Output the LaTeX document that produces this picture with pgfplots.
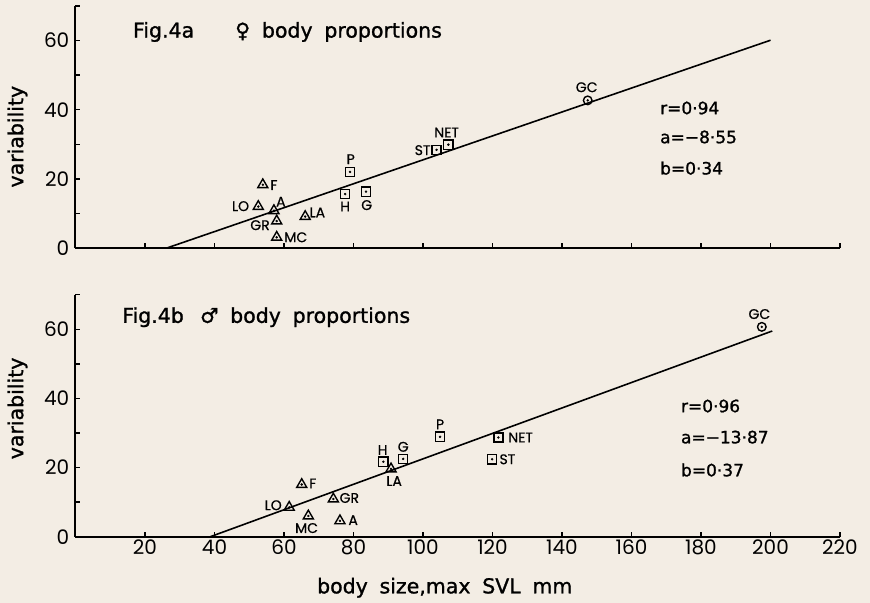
\documentclass[border=0pt]{standalone}
\usepackage{pgfplots}
\pgfplotsset{compat=1.18}
\usepackage{pgfplotstable}
\usepackage{fontspec}
\setmainfont{DejaVu Sans}
\newfontfamily\tickfont{Poppins}
\newfontfamily\ptfont[FakeBold=0.6]{Poppins}
\newfontfamily\labfont[WordSpace=1.8,FakeBold=1.2]{DejaVu Sans}
\definecolor{bg}{RGB}{243,237,228}

% top panel (female)
\pgfplotstableread{
x y
53.9 18.3
52.6 12.0
57.1 10.8
57.9 7.8
57.9 3.1
66.1 9.1
}\topTri
\pgfplotstableread{
x y
77.6 15.6
79.0 22.0
83.6 16.3
103.9 28.4
107.3 29.9
}\topSq
\pgfplotstableread{
x y
147.4 42.7
}\topCirc
\pgfplotstableread{
x y lab
57.1 18.2 F
47.5 12.1 LO
59.1 13.4 A
53.1 6.6 GR
63.4 3.1 MC
69.6 10.3 LA
77.6 12.0 H
79.2 25.7 P
83.8 12.4 G
99.9 28.3 ST
106.8 33.4 NET
147.1 46.5 GC
}\topLab

% bottom panel (male)
\pgfplotstableread{
x y
65.1 15.1
74.2 10.9
61.5 8.5
67.0 6.0
76.1 4.6
90.8 19.6
}\botTri
\pgfplotstableread{
x y
88.6 21.7
94.3 22.5
104.9 28.9
121.7 28.7
119.9 22.4
}\botSq
\pgfplotstableread{
x y
197.5 60.7
}\botCirc
\pgfplotstableread{
x y lab
88.4 25.1 H
94.3 26.0 G
91.7 16.1 LA
104.9 32.5 P
128.1 28.7 NET
124.3 22.4 ST
68.3 15.4 F
78.8 11.2 GR
56.9 9.1 LO
66.5 2.5 MC
79.9 4.8 A
196.8 64.4 GC
}\botLab

\pgfplotsset{
  myax/.style={
    scale only axis, width=764.5bp, height=242bp,
    xmin=0, xmax=220, ymin=0, ymax=70,
    axis lines=left, axis line style={-, line width=2bp},
    xtick={20,40,...,220}, ytick={0,20,40,60}, minor ytick={10,30,50,70},
    tick align=inside, major tick length=5bp, minor tick length=5bp,
    every tick/.style={line width=1.3bp, black},
    clip=false,
    /pgf/number format/assume math mode=true,
    ticklabel style={font=\tickfont\fontsize{20bp}{22bp}\selectfont},
    yticklabel style={inner sep=6bp},
    ylabel={variability},
  },
  trimark/.style={only marks, mark=triangle, mark size=5.8bp, mark options={line width=1.4bp, solid, fill=none}},
  sqmark/.style={only marks, mark=square, mark size=4.6bp, mark options={line width=1.4bp, solid, fill=none}},
  circmark/.style={only marks, mark=o, mark size=4.3bp, mark options={line width=1.4bp, solid}},
  dotmark/.style={only marks, mark=*, mark size=1bp},
  labs/.style={draw=none, mark=none, nodes near coords, point meta=explicit symbolic,
    every node near coord/.style={anchor=center, inner sep=0pt, font=\ptfont\fontsize{14bp}{15bp}\selectfont}},
}

\begin{document}
\begin{tikzpicture}[x=1bp,y=1bp]
\fill[bg] (-75.5bp,-355bp) rectangle (794.5bp,248bp);

% ---------- top panel ----------
\begin{axis}[myax, at={(0bp,0bp)}, anchor=south west,
  xticklabels={},
  every axis y label/.style={at={(axis description cs:-0.0759,0.46)}, rotate=90, anchor=center, font=\labfont\fontsize{20.5bp}{24bp}\selectfont}]
\addplot[black, line width=1.6bp] coordinates {(26.3,0) (200,60.1)};
\addplot[trimark] table[x=x,y=y]{\topTri};
\addplot[dotmark] table[x=x,y=y]{\topTri};
\addplot[sqmark] table[x=x,y=y]{\topSq};
\addplot[dotmark] table[x=x,y=y]{\topSq};
\addplot[circmark] table[x=x,y=y]{\topCirc};
\addplot[dotmark] table[x=x,y=y]{\topCirc};
\addplot[labs] table[x=x,y=y,meta=lab]{\topLab};
\node[anchor=west, inner sep=0pt, font=\labfont\fontsize{20.5bp}{24bp}\selectfont] at (axis cs:16.5,62.5) {Fig.4a};
\node[anchor=west, inner sep=0pt, font=\labfont\fontsize{20.5bp}{24bp}\selectfont] at (axis cs:45.9,62.5) {♀ body proportions};
\node[anchor=west, inner sep=0pt, font=\labfont\fontsize{17bp}{20bp}\selectfont] at (axis cs:168.2,40.5) {r=0·94};
\node[anchor=west, inner sep=0pt, font=\labfont\fontsize{17bp}{20bp}\selectfont] at (axis cs:168.2,32.1) {a=−8·55};
\node[anchor=west, inner sep=0pt, font=\labfont\fontsize{17bp}{20bp}\selectfont] at (axis cs:168.2,23.1) {b=0·34};
\end{axis}

% ---------- bottom panel ----------
\begin{axis}[myax, at={(0bp,-288.7bp)}, anchor=south west,
  xlabel={body size,max SVL mm},
  every axis x label/.style={at={(axis description cs:0.483,0)}, yshift=-51bp, anchor=center, font=\labfont\fontsize{20.5bp}{24bp}\selectfont},
  every axis y label/.style={at={(axis description cs:-0.0759,0.53)}, rotate=90, anchor=center, font=\labfont\fontsize{20.5bp}{24bp}\selectfont}]
\addplot[black, line width=1.6bp] coordinates {(38.8,0) (200.5,59.5)};
\addplot[trimark] table[x=x,y=y]{\botTri};
\addplot[dotmark] table[x=x,y=y]{\botTri};
\addplot[sqmark] table[x=x,y=y]{\botSq};
\addplot[dotmark] table[x=x,y=y]{\botSq};
\addplot[circmark] table[x=x,y=y]{\botCirc};
\addplot[dotmark] table[x=x,y=y]{\botCirc};
\addplot[labs] table[x=x,y=y,meta=lab]{\botLab};
\node[anchor=west, inner sep=0pt, font=\labfont\fontsize{20.5bp}{24bp}\selectfont] at (axis cs:13.4,63.5) {Fig.4b};
\node[anchor=west, inner sep=0pt, font=\labfont\fontsize{20.5bp}{24bp}\selectfont] at (axis cs:35.8,63.5) {♂ body proportions};
\node[anchor=west, inner sep=0pt, font=\labfont\fontsize{17bp}{20bp}\selectfont] at (axis cs:174.2,37.8) {r=0·96};
\node[anchor=west, inner sep=0pt, font=\labfont\fontsize{17bp}{20bp}\selectfont] at (axis cs:174.2,28.8) {a=−13·87};
\node[anchor=west, inner sep=0pt, font=\labfont\fontsize{17bp}{20bp}\selectfont] at (axis cs:174.2,19.3) {b=0·37};
\end{axis}

\pgfresetboundingbox
\path[use as bounding box] (-75.5bp,-355bp) rectangle (794.5bp,248bp);
\end{tikzpicture}
\end{document}
